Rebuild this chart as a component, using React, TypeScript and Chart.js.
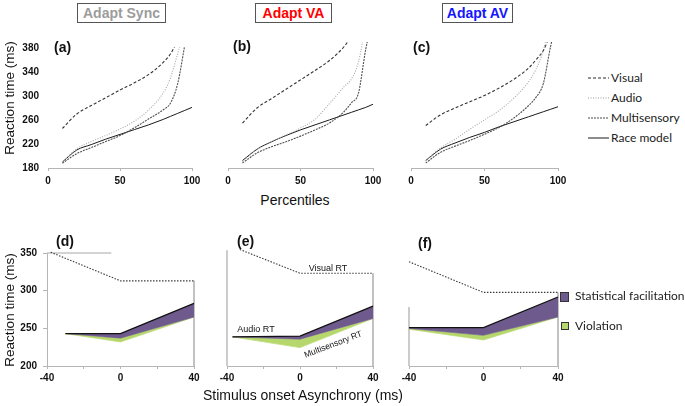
import React, { useEffect, useRef } from "react";
import { Chart, registerables } from "chart.js";
Chart.register(...registerables);

// ---------- DATA ----------
const percentiles = [10, 20, 30, 40, 50, 60, 70, 80, 85, 90, 95, 100];

// (a) Adapt Sync
const visualA = [246, 270, 284, 297, 310, 322, 336, 356, 370, 392, null, null];
const audioA = [190, 212, 224, 234, 245, 258, 277, 305, 330, 370, 410, null];
const multiA = [188, 204, 214, 224, 234, 247, 262, 277, 288, 320, 385, null];
const raceA = [190, 210, 219, 228, 236, 244, 252, 261, 266, 271, 276, 281];

// (b) Adapt VA
const visualB = [252, 276, 291, 306, 321, 336, 352, 374, 390, null, null, null];
const audioB = [190, 210, 222, 233, 244, 258, 283, 310, 322, 350, 410, null];
const multiB = [188, 204, 214, 222, 231, 241, 252, 270, 284, 300, 370, 420];
const raceB = [192, 210, 222, 232, 241, 249, 257, 265, 269, 273, 277, 282];

// (c) Adapt AV
const visualC = [248, 265, 276, 286, 296, 308, 322, 340, 353, 368, 395, null];
const audioC = [192, 212, 226, 242, 257, 272, 292, 318, 338, 368, 420, null];
const multiC = [188, 205, 215, 224, 234, 245, 260, 280, 293, 315, 375, 420];
const raceC = [192, 210, 220, 229, 237, 246, 254, 262, 266, 270, 274, 278];

const pctTicks = [0, 50, 100];
const rtTicksTop = [180, 220, 260, 300, 340, 380];

// Bottom panels: stimulus onset asynchrony
const soaTicks = [-40, 0, 40];
const soaMinor = [-40, -20, 0, 20, 40];
const rtTicksBottom = [200, 250, 300, 350];

// (d)
const soaD = [-30, 0, 40];
const audioRtD = [243, 243, 283];
const raceRtD = [243, 237, 265];
const multiRtD = [243, 232, 265];
const soaVisD = [-38, 0, 40];
const visualRtD = [351, 313, 313];

// (e)
const soaE = [-37, 0, 40];
const audioRtE = [238, 239, 278];
const raceRtE = [238, 235, 262];
const multiRtE = [238, 224, 262];
const soaVisE = [-33, 0, 40];
const visualRtE = [352, 321, 321];

// (f)
const soaF = [-40, 0, 40];
const audioRtF = [250, 250, 290];
const raceRtF = [249, 240, 264];
const multiRtF = [248, 234, 264];
const soaVisF = [-40, 0, 40];
const visualRtF = [336, 296, 296];

// ---------- STYLE ----------
const FONT = '"Liberation Sans", Arial, sans-serif';
const LEG_FONT = 'Lato, "Open Sans", sans-serif';
const PURPLE = "#6e5a8c";
const GREEN = "#b6d76b";
const AXIS = "#b5b5b5";

const pts = (xs: number[], ys: (number | null)[]) =>
  xs.map((x, i) => ({ x, y: ys[i] })).filter((d) => d.y !== null);

function baseOptions() {
  return {
    animation: false,
    responsive: false,
    plugins: { legend: { display: false }, tooltip: { enabled: false } },
    elements: { point: { radius: 0 } },
  } as any;
}

function tickFont() {
  return { family: FONT, size: 10, weight: "bold" };
}

function topConfig(vis: any[], aud: any[], mul: any[], race: any[], showY: boolean) {
  const clip = { left: 6, right: 6, top: 1, bottom: 6 };
  const o = baseOptions();
  o.elements.line = { cubicInterpolationMode: "monotone" };
  o.scales = {
    x: {
      type: "linear",
      min: 0,
      max: 100,
      afterBuildTicks: (s: any) => {
        s.ticks = pctTicks.map((v) => ({ value: v }));
      },
      ticks: { font: tickFont(), color: "#111", padding: 4, maxRotation: 0, autoSkip: false },
      grid: { display: true, drawOnChartArea: false, drawTicks: true, tickLength: 3, color: AXIS },
      border: { display: true, color: AXIS },
    },
    y: {
      type: "linear",
      min: 180,
      max: 380,
      display: showY,
      afterBuildTicks: (s: any) => {
        s.ticks = rtTicksTop.map((v) => ({ value: v }));
      },
      ticks: { font: tickFont(), color: "#111", padding: 9 },
      grid: { display: false, drawTicks: false },
      border: { display: false },
    },
  };
  return {
    type: "line",
    data: {
      datasets: [
        { data: pts(percentiles, vis), borderColor: "#333", borderWidth: 1.1, borderDash: [3, 2], clip },
        { data: pts(percentiles, aud), borderColor: "#a8a8a8", borderWidth: 1.1, borderDash: [1, 1.5], clip },
        { data: pts(percentiles, mul), borderColor: "#505050", borderWidth: 1.1, borderDash: [2, 1], clip },
        { data: pts(percentiles, race), borderColor: "#1a1a1a", borderWidth: 1.0, clip },
      ],
    },
    options: o,
  };
}

function bottomConfig(
  soa: number[],
  audio: number[],
  race: number[],
  multi: number[],
  soaVis: number[],
  visual: number[],
  extraLines: { xs: number[]; ys: number[]; color: string; width: number }[],
  showY: boolean
) {
  const clip = 6;
  const o = baseOptions();
  o.elements.line = { tension: 0 };
  o.scales = {
    x: {
      type: "linear",
      min: -40,
      max: 40,
      afterBuildTicks: (s: any) => {
        s.ticks = soaMinor.map((v) => ({ value: v }));
      },
      ticks: {
        font: tickFont(),
        color: "#111",
        padding: 3,
        maxRotation: 0,
        autoSkip: false,
        callback: (v: any) => (soaTicks.includes(Number(v)) ? String(v) : ""),
      },
      grid: { display: true, drawOnChartArea: false, drawTicks: true, tickLength: 3, color: AXIS },
      border: { display: true, color: AXIS },
    },
    y: {
      type: "linear",
      min: 200,
      max: 350,
      display: showY,
      afterBuildTicks: (s: any) => {
        s.ticks = rtTicksBottom.map((v) => ({ value: v }));
      },
      ticks: { font: tickFont(), color: "#111", padding: 6 },
      grid: { display: true, drawOnChartArea: false, drawTicks: true, tickLength: 4, color: AXIS },
      border: { display: true, color: AXIS },
    },
  };
  const datasets: any[] = [
    { data: pts(soa, audio), borderColor: "#111", borderWidth: 1.3, fill: { target: 1, above: PURPLE, below: PURPLE }, clip },
    { data: pts(soa, race), borderColor: PURPLE, borderWidth: 0.6, fill: { target: 2, above: GREEN, below: "rgba(0,0,0,0)" }, clip },
    { data: pts(soa, multi), borderColor: GREEN, borderWidth: 0.8, fill: false, clip },
    { data: pts(soaVis, visual), borderColor: "#3a3a3a", borderWidth: 1.1, borderDash: [1.5, 1.5], fill: false, clip },
  ];
  extraLines.forEach((l) =>
    datasets.push({ data: pts(l.xs, l.ys), borderColor: l.color, borderWidth: l.width, fill: false, clip })
  );
  return { type: "line", data: { datasets }, options: o };
}

// ---------- CHART WRAPPER ----------
type Area = { l: number; t: number; r: number; b: number };

function PlotCanvas({ area, yw, build }: { area: Area; yw: number; build: () => any }) {
  const ref = useRef<HTMLCanvasElement>(null);
  const PL = yw ? 0 : 12;
  const PT = 10;
  const PR = 14;
  const XH = 22;
  const left = area.l - yw - PL;
  const top = area.t - PT;
  const w = yw + PL + (area.r - area.l) + PR;
  const h = PT + (area.b - area.t) + XH;
  useEffect(() => {
    const cfg = build();
    cfg.options.layout = { padding: { left: PL, top: PT, right: PR, bottom: 0 } };
    cfg.options.scales.x.afterFit = (s: any) => {
      s.height = XH;
    };
    if (yw) {
      cfg.options.scales.y.afterFit = (s: any) => {
        s.width = yw;
      };
    }
    const chart = new Chart(ref.current as HTMLCanvasElement, cfg);
    return () => chart.destroy();
  }, []);
  return (
    <canvas
      ref={ref}
      width={w}
      height={h}
      style={{ position: "absolute", left, top, width: w, height: h }}
    />
  );
}

// ---------- TEXT HELPERS ----------
const abs = (s: React.CSSProperties): React.CSSProperties => ({ position: "absolute", whiteSpace: "nowrap", ...s });

function TitleBox({ x, w, text, color }: { x: number; w: number; text: string; color: string }) {
  return (
    <div
      style={abs({
        left: x,
        top: 3,
        width: w,
        height: 20,
        boxSizing: "border-box",
        border: "1.5px solid #555",
        display: "flex",
        alignItems: "center",
        justifyContent: "center",
        font: `bold 14px ${FONT}`,
        color,
      })}
    >
      {text}
    </div>
  );
}

function PanelLabel({ x, y, text }: { x: number; y: number; text: string }) {
  return (
    <div style={abs({ left: x, top: y, transform: "translateY(-50%)", font: `bold 14px ${FONT}`, lineHeight: 1, color: "#111" })}>
      {text}
    </div>
  );
}

function LegendLine({ y, dash, color, label, width }: { y: number; dash: string; color: string; label: string; width: number }) {
  return (
    <>
      <svg style={abs({ left: 587, top: y - 3, width: 24, height: 6 })} width={24} height={6}>
        <line x1={1} y1={3} x2={22} y2={3} stroke={color} strokeWidth={width} strokeDasharray={dash} />
      </svg>
      <div style={abs({ left: 611, top: y, transform: "translateY(-50%)", font: `12px ${LEG_FONT}`, lineHeight: 1, color: "#222" })}>
        {label}
      </div>
    </>
  );
}

export default function App() {
  const topA: Area = { l: 48, t: 43, r: 192, b: 168 };
  const topB: Area = { l: 228, t: 43, r: 373, b: 168 };
  const topC: Area = { l: 411, t: 43, r: 558, b: 168 };
  const botD: Area = { l: 47, t: 251, r: 194, b: 366 };
  const botE: Area = { l: 227, t: 251, r: 373, b: 366 };
  const botF: Area = { l: 409, t: 251, r: 558, b: 366 };

  return (
    <div style={{ position: "fixed", left: 0, top: 0, width: 685, height: 406, background: "#fff", overflow: "hidden" }}>
      <PlotCanvas area={topA} yw={40} build={() => topConfig(visualA, audioA, multiA, raceA, true)} />
      <PlotCanvas area={topB} yw={0} build={() => topConfig(visualB, audioB, multiB, raceB, false)} />
      <PlotCanvas area={topC} yw={0} build={() => topConfig(visualC, audioC, multiC, raceC, false)} />

      <PlotCanvas
        area={botD}
        yw={40}
        build={() =>
          bottomConfig(soaD, audioRtD, raceRtD, multiRtD, soaVisD, visualRtD, [
            { xs: [40, 40], ys: [313, 200], color: "#9a9a9a", width: 1.2 },
            { xs: [-40, -5], ys: [350, 350], color: "#c4c4c4", width: 1.5 },
          ], true)
        }
      />
      <PlotCanvas
        area={botE}
        yw={0}
        build={() =>
          bottomConfig(soaE, audioRtE, raceRtE, multiRtE, soaVisE, visualRtE, [
            { xs: [-40, -40], ys: [351, 200], color: "#aaaaaa", width: 1.2 },
            { xs: [40, 40], ys: [321, 200], color: "#9a9a9a", width: 1.2 },
          ], false)
        }
      />
      <PlotCanvas
        area={botF}
        yw={0}
        build={() =>
          bottomConfig(soaF, audioRtF, raceRtF, multiRtF, soaVisF, visualRtF, [
            { xs: [-40, -40], ys: [277, 200], color: "#aaaaaa", width: 1.2 },
            { xs: [40, 40], ys: [296, 200], color: "#9a9a9a", width: 1.2 },
          ], false)
        }
      />

      {/* Titles */}
      <TitleBox x={77} w={89} text="Adapt Sync" color="#9c9c9c" />
      <TitleBox x={255} w={77} text="Adapt VA" color="#ff0000" />
      <TitleBox x={442} w={71} text="Adapt AV" color="#1515ff" />

      {/* Panel labels */}
      <PanelLabel x={54} y={47} text="(a)" />
      <PanelLabel x={233} y={46} text="(b)" />
      <PanelLabel x={413} y={47} text="(c)" />
      <PanelLabel x={56} y={241} text="(d)" />
      <PanelLabel x={237} y={241} text="(e)" />
      <PanelLabel x={418} y={243} text="(f)" />

      {/* Axis titles */}
      <div style={abs({ left: 9, top: 98, transform: "translate(-50%,-50%) rotate(-90deg)", font: `13.5px ${FONT}`, color: "#111" })}>
        Reaction time (ms)
      </div>
      <div style={abs({ left: 9, top: 310, transform: "translate(-50%,-50%) rotate(-90deg)", font: `13.5px ${FONT}`, color: "#111" })}>
        Reaction time (ms)
      </div>
      <div style={abs({ left: 295, top: 200, transform: "translate(-50%,-50%)", font: `14px ${FONT}`, color: "#111" })}>
        Percentiles
      </div>
      <div style={abs({ left: 303, top: 395, transform: "translate(-50%,-50%)", font: `14px ${FONT}`, color: "#111" })}>
        Stimulus onset Asynchrony (ms)
      </div>

      {/* Annotations in (e) */}
      <div style={abs({ left: 328, top: 268, transform: "translate(-50%,-50%)", font: `9px ${FONT}`, color: "#111" })}>Visual RT</div>
      <div style={abs({ left: 256, top: 329, transform: "translate(-50%,-50%)", font: `9px ${FONT}`, color: "#111" })}>Audio RT</div>
      <div style={abs({ left: 333, top: 344, transform: "translate(-50%,-50%) rotate(-21deg)", font: `8.5px ${FONT}`, color: "#111" })}>
        Multisensory RT
      </div>

      {/* Top legend */}
      <LegendLine y={78} dash="3 2" color="#2a2a2a" width={1.1} label="Visual" />
      <LegendLine y={98} dash="1 1.5" color="#999" width={1.1} label="Audio" />
      <LegendLine y={118} dash="2 1" color="#4a4a4a" width={1.1} label="Multisensory" />
      <LegendLine y={138} dash="" color="#1a1a1a" width={1.0} label="Race model" />

      {/* Bottom legend */}
      <div style={abs({ left: 560, top: 292, width: 9, height: 10, boxSizing: "border-box", background: PURPLE, border: "1px solid #333" })} />
      <div style={abs({ left: 575, top: 296, transform: "translateY(-50%)", font: `12px ${LEG_FONT}`, lineHeight: 1, color: "#222" })}>
        Statistical facilitation
      </div>
      <div style={abs({ left: 561, top: 322, width: 8, height: 8, boxSizing: "border-box", background: GREEN, border: "1px solid #333" })} />
      <div style={abs({ left: 575, top: 326, transform: "translateY(-50%)", font: `12px ${LEG_FONT}`, lineHeight: 1, color: "#222" })}>
        Violation
      </div>
    </div>
  );
}
